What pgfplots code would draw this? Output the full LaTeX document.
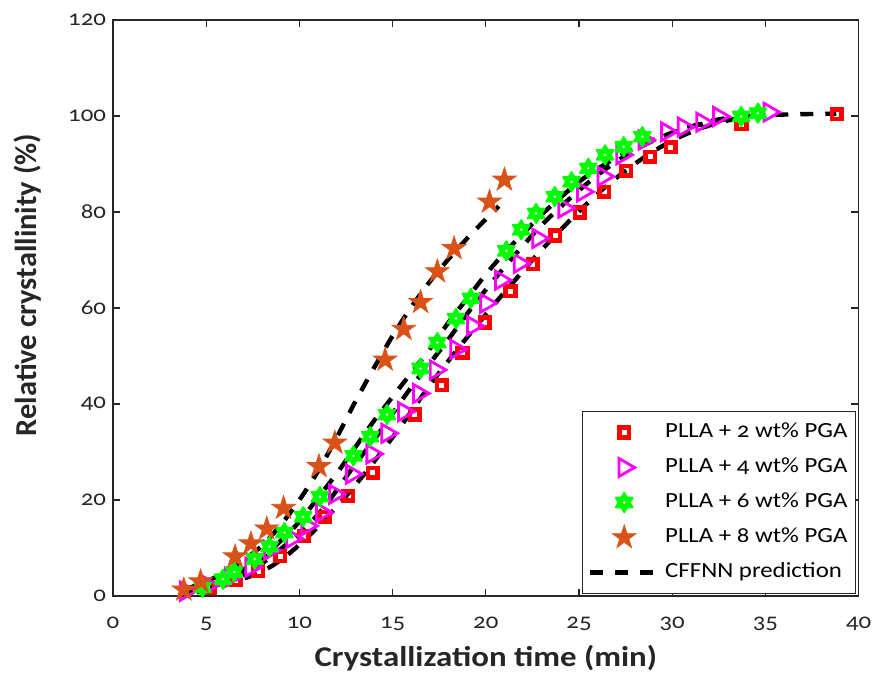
\documentclass[border=0pt]{standalone}
\usepackage{fontspec}
\setmainfont{Carlito}[FakeStretch=1.15,Numbers=OldStyle]
\newfontfamily\ylabfont{Carlito}[Numbers=OldStyle]
\usepackage{pgfplots}
\pgfplotsset{compat=1.18}
\definecolor{axgray}{RGB}{38,38,38}
\definecolor{morange}{RGB}{217,83,25}
\definecolor{mgreen}{RGB}{0,255,0}
\definecolor{mmag}{RGB}{255,0,255}
\definecolor{mred}{RGB}{255,0,0}

\pgfdeclareplotmark{pentagram}{%
 \pgfpathmoveto{\pgfpointpolar{90}{\pgfplotmarksize}}%
 \pgfpathlineto{\pgfpointpolar{126}{0.382*\pgfplotmarksize}}%
 \pgfpathlineto{\pgfpointpolar{162}{\pgfplotmarksize}}%
 \pgfpathlineto{\pgfpointpolar{198}{0.382*\pgfplotmarksize}}%
 \pgfpathlineto{\pgfpointpolar{234}{\pgfplotmarksize}}%
 \pgfpathlineto{\pgfpointpolar{270}{0.382*\pgfplotmarksize}}%
 \pgfpathlineto{\pgfpointpolar{306}{\pgfplotmarksize}}%
 \pgfpathlineto{\pgfpointpolar{342}{0.382*\pgfplotmarksize}}%
 \pgfpathlineto{\pgfpointpolar{18}{\pgfplotmarksize}}%
 \pgfpathlineto{\pgfpointpolar{54}{0.382*\pgfplotmarksize}}%
 \pgfpathclose\pgfusepathqfillstroke}
\pgfdeclareplotmark{hexagram}{%
 \pgfpathmoveto{\pgfpointpolar{90}{\pgfplotmarksize}}%
 \pgfpathlineto{\pgfpointpolar{120}{0.577*\pgfplotmarksize}}%
 \pgfpathlineto{\pgfpointpolar{150}{\pgfplotmarksize}}%
 \pgfpathlineto{\pgfpointpolar{180}{0.577*\pgfplotmarksize}}%
 \pgfpathlineto{\pgfpointpolar{210}{\pgfplotmarksize}}%
 \pgfpathlineto{\pgfpointpolar{240}{0.577*\pgfplotmarksize}}%
 \pgfpathlineto{\pgfpointpolar{270}{\pgfplotmarksize}}%
 \pgfpathlineto{\pgfpointpolar{300}{0.577*\pgfplotmarksize}}%
 \pgfpathlineto{\pgfpointpolar{330}{\pgfplotmarksize}}%
 \pgfpathlineto{\pgfpointpolar{0}{0.577*\pgfplotmarksize}}%
 \pgfpathlineto{\pgfpointpolar{30}{\pgfplotmarksize}}%
 \pgfpathlineto{\pgfpointpolar{60}{0.577*\pgfplotmarksize}}%
 \pgfpathclose\pgfusepathqfillstroke
 \begin{pgfscope}%
 \pgfsetfillcolor{white}%
 \pgfpathcircle{\pgfpointorigin}{0.14*\pgfplotmarksize}%
 \pgfusepathqfill
 \end{pgfscope}}

\pgfplotsset{
 leg/.style={legend image code/.code={%
   \path[draw=none,fill=none] (0pt,-4.85pt) rectangle (34pt,4.85pt);
   \draw[overlay,mark repeat=2,mark phase=2,##1] plot coordinates {(0pt,0pt) (17pt,0pt) (34pt,0pt)};}},
 pred/.style={black, line width=2.2pt, dash pattern=on 6.5pt off 6pt, smooth, no markers, leg},
}

% ---------- measured points ----------
\pgfplotstableread{
x y
5.2 1.6
6.58 3.3
7.79 5.2
8.97 8.3
10.23 12.5
11.37 16.5
12.62 20.9
13.93 25.7
16.19 37.8
17.63 43.9
18.75 50.7
19.95 57.0
21.33 63.5
22.53 69.1
23.73 75.1
25.04 79.9
26.35 84.2
27.54 88.6
28.81 91.5
29.93 93.5
33.72 98.3
38.82 100.4
}\wtTwo
\pgfplotstableread{
x y
3.9 1.0
5.1 2.2
6.3 3.9
7.4 6.0
8.4 9.5
9.6 12.0
10.4 14.6
11.2 17.4
11.9 21.2
12.8 25.4
13.9 29.6
14.7 33.9
15.6 38.4
16.4 42.2
17.3 47.1
18.4 51.4
19.3 56.3
20.0 61.0
20.8 65.8
21.8 69.3
22.8 74.5
24.2 80.8
25.2 84.2
26.3 87.4
27.3 91.9
28.5 95.0
29.7 96.7
30.6 97.7
31.6 98.7
32.5 99.9
35.2 100.8
}\wtFour
\pgfplotstableread{
x y
4.8 1.8
5.9 3.5
6.5 5.0
7.6 7.7
8.4 10.3
9.2 13.2
10.2 16.5
11.1 20.7
12.9 29.2
13.8 33.2
14.7 37.8
16.5 47.4
17.4 52.8
18.4 57.8
19.2 62.0
21.1 71.9
21.9 76.3
22.7 79.7
23.7 83.2
24.6 86.3
25.5 89.1
26.4 91.9
27.4 93.6
28.4 95.7
33.7 99.9
34.6 100.6
}\wtSix
\pgfplotstableread{
x y
3.8 1.3
4.7 3.0
6.55 8.2
7.4 10.9
8.25 14.0
9.15 18.3
11.05 27.0
11.9 31.9
14.6 49.2
15.6 55.6
16.5 61.2
17.4 67.6
18.3 72.4
20.2 82.1
21.0 86.7
}\wtEight

% ---------- CFFNN predictions ----------
\pgfplotstableread{
x y
4.5 0.8
5.5 1.5
6.5 3.0
7.5 4.3
8.5 6.2
9.5 9.0
10.5 12.5
11.5 16.5
12.5 20.8
13.5 25.5
14.5 30.5
15.5 35.7
16.5 41.2
17.5 46.5
18.5 51.5
19.5 56.3
20.5 61.0
21.5 65.5
22.5 70.0
23.5 74.2
24.5 78.2
25.5 82.0
26.5 85.5
27.5 88.6
28.5 91.4
29.5 93.8
30.5 95.8
31.5 97.4
32.5 98.6
33.5 99.5
34.5 100.0
36 100.3
38.8 100.5
}\pTwo
\pgfplotstableread{
x y
3.9 0.8
5 1.6
6 2.8
7 4.5
8 6.8
9 9.8
10 13.0
11 17.0
12 22.0
13 27.5
14 32.5
15 38.0
16 43.5
17 48.5
18 53.5
19 58.8
20 63.8
21 68.5
22 73.0
23 77.3
24 81.0
25 84.5
26 87.7
27 90.5
28 92.9
29 94.9
30 96.5
31 97.8
32 98.9
33 99.6
34 100.0
35 100.2
}\pFour
\pgfplotstableread{
x y
4.0 1.0
5 2.0
6 3.5
7 5.5
8 8.0
9 11.5
10 15.5
11 20.5
12 25.5
13 31.0
14 36.5
15 41.5
16 46.5
17 51.5
18 57.0
19 62.0
20 67.0
21 71.5
22 75.5
23 79.5
24 83.0
25 86.3
26 89.0
27 91.3
28 93.3
29 95.0
30 96.5
31 97.7
32 98.7
33 99.4
34 99.9
34.6 100.1
}\pSix
\pgfplotstableread{
x y
3.8 1.3
5 3.0
6 5.0
7 7.5
8 10.5
9 14.8
10 20.0
11 26.0
12 33.0
13 40.5
14 47.5
15 54.2
16 60.2
17 65.5
18 70.2
19 74.5
20 78.5
20.7 81.2
}\pEight

\begin{document}
\begin{tikzpicture}
\begin{axis}[name=ax, scale only axis, width=372.8pt, height=288pt,
 xmin=0, xmax=40, ymin=0, ymax=120,
 xtick={0,5,...,40}, ytick={0,20,...,120},
 xtick pos=both, ytick pos=both, tick align=inside, major tick length=3.7pt,
 axis line style={axgray, line width=0.6pt},
 every tick/.style={axgray, line width=0.6pt},
 /pgf/number format/assume math mode=true,
 ticklabel style={font=\fontsize{10.8}{13}\selectfont, text=axgray},
 xticklabel style={yshift=-6.9pt},
 xlabel={Crystallization time (min)},
 xlabel style={at={(axis description cs:0.5,-0.1076)}, anchor=center, font=\fontsize{14.3}{17}\selectfont\bfseries, text=axgray},
 ylabel={Relative crystallinity (\%)},
 ylabel style={at={(axis description cs:-0.114,0.54)}, anchor=center, font=\ylabfont\fontsize{15.2}{18}\selectfont\bfseries, text=axgray},
 legend cell align=left,
 legend style={at={(axis description cs:0.9965,0.0035)}, anchor=south east, draw=axgray, line width=0.5pt, fill=white,
   inner xsep=4pt, inner ysep=5.65pt, row sep=7.8pt, column sep=3.5pt,
   font=\fontsize{10.8}{13}\selectfont,
   nodes={text height=7.5pt, text depth=2.2pt, inner sep=0pt}},
]
\addplot[only marks, leg, color=mred, mark=square, mark size=2.4pt, line width=2.3pt] table {\wtTwo};
\addlegendentry{PLLA + 2 wt\% PGA}
\addplot[only marks, leg, color=mmag, mark=triangle, mark size=5.2pt, line width=1.4pt, mark options={rotate=-90}] table {\wtFour};
\addlegendentry{PLLA + 4 wt\% PGA}
\addplot[only marks, leg, color=mgreen, fill=mgreen, mark=hexagram, mark size=4.8pt, line width=1pt, line join=round] table {\wtSix};
\addlegendentry{PLLA + 6 wt\% PGA}
\addplot[only marks, leg, color=morange, fill=morange, mark=pentagram, mark size=6.2pt, line width=0.4pt] table {\wtEight};
\addlegendentry{PLLA + 8 wt\% PGA}
\addplot[pred] table {\pTwo};
\addlegendentry{CFFNN prediction}
\addplot[pred, forget plot] table {\pFour};
\addplot[pred, forget plot] table {\pSix};
\addplot[pred, forget plot] table {\pEight};
\end{axis}
\pgfresetboundingbox
\path[use as bounding box] ([shift={(-56.5pt,-39.5pt)}]ax.south west) rectangle ([shift={(6.7pt,10pt)}]ax.north east);
\end{tikzpicture}
\end{document}
